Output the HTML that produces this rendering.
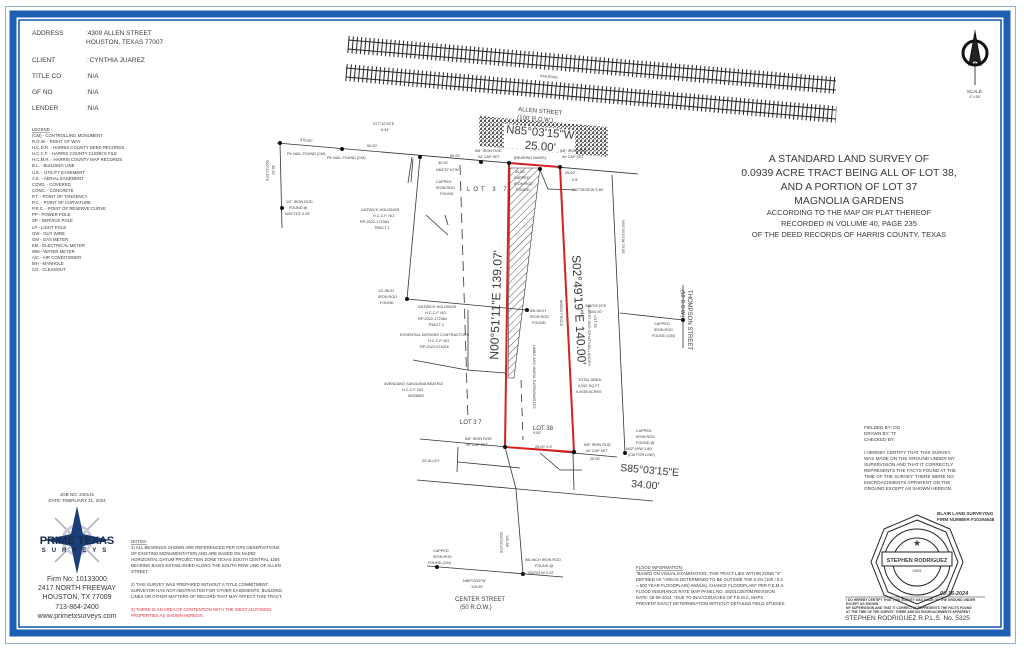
<!DOCTYPE html>
<html><head><meta charset="utf-8"><style>
html,body{margin:0;padding:0;background:#fff;}
svg{display:block;}
text{font-family:"Liberation Sans",sans-serif;fill:#3a3a3a;}
</style></head><body>
<svg width="1024" height="653" viewBox="0 0 1024 653" xmlns="http://www.w3.org/2000/svg">
<rect width="1024" height="653" fill="#fff"/>
<rect x="5.5" y="6.5" width="1010" height="637" fill="none" stroke="#8fb0d8" stroke-width="1"/>
<rect x="13" y="14" width="994" height="619" fill="none" stroke="#1e5fb4" stroke-width="7"/>
<rect x="19" y="20" width="982" height="607" fill="none" stroke="#1e5fb4" stroke-width="1.6"/>

<g font-size="6.5">
<text x="32" y="35">ADDRESS</text><text x="86" y="35">:4309 ALLEN STREET</text><text x="86" y="44">HOUSTON, TEXAS 77007</text>
<text x="32" y="62">CLIENT</text><text x="86" y="62">: CYNTHIA JUAREZ</text>
<text x="32" y="78">TITLE CO</text><text x="86" y="78">:N/A</text>
<text x="32" y="94">GF NO</text><text x="86" y="94">:N/A</text>
<text x="32" y="110">LENDER</text><text x="86" y="110">:N/A</text>
</g>
<g font-size="4.3">
<text x="32" y="131" text-decoration="underline">LEGEND</text>
<text x="32" y="137">(CM) - CONTROLLING MONUMENT</text>
<text x="32" y="143">R.O.W. - RIGHT OF WAY</text>
<text x="32" y="149">H.C.D.R. - HARRIS COUNTY DEED RECORDS</text>
<text x="32" y="155">H.C.C.F. - HARRIS COUNTY CLERK'S FILE</text>
<text x="32" y="161">H.C.M.R. - HARRIS COUNTY MAP RECORDS</text>
<text x="32" y="167">B.L. - BUILDING LINE</text>
<text x="32" y="174">U.E. - UTILITY EASEMENT</text>
<text x="32" y="180">A.E. - AERIAL EASEMENT</text>
<text x="32" y="186">COVD. - COVERED</text>
<text x="32" y="192">CONC. - CONCRETE</text>
<text x="32" y="198">P.T. - POINT OF TANGENCY</text>
<text x="32" y="204">P.C. - POINT OF CURVATURE</text>
<text x="32" y="210">P.R.C. - POINT OF RESERVE CURVE</text>
<text x="32" y="216">PP - POWER POLE</text>
<text x="32" y="222">SP - SERVICE POLE</text>
<text x="32" y="229">LP - LIGHT POLE</text>
<text x="32" y="235">GW - GUY WIRE</text>
<text x="32" y="241">GM - GAS METER</text>
<text x="32" y="247">EM - ELECTRICAL METER</text>
<text x="32" y="253">WM - WATER METER</text>
<text x="32" y="259">A/C - AIR CONDITIONER</text>
<text x="32" y="265">MH - MANHOLE</text>
<text x="32" y="271">CO - CLEANOUT</text>
</g>

<g stroke="#222" fill="none">
<line x1="348" y1="40" x2="836" y2="81" stroke-width="1"/>
<line x1="348" y1="49" x2="836" y2="90" stroke-width="1"/>
<line x1="348" y1="44.5" x2="836" y2="85.5" stroke-width="17" stroke-dasharray="1 3.2"/>
<line x1="346" y1="68" x2="836" y2="110" stroke-width="1"/>
<line x1="346" y1="77" x2="836" y2="119" stroke-width="1"/>
<line x1="346" y1="72.5" x2="836" y2="114.5" stroke-width="17" stroke-dasharray="1 3.2"/>
</g>
<text x="540" y="77" font-size="3.5" transform="rotate(5 540 77)">RAILROAD</text>
<text x="518" y="111" font-size="6" transform="rotate(5 518 111)">ALLEN STREET</text>
<text x="517" y="119" font-size="6" transform="rotate(5 517 119)">(100' R.O.W.)</text>

<defs>
<pattern id="st" width="4" height="4" patternUnits="userSpaceOnUse">
<circle cx="1" cy="1" r="1" fill="#222"/><circle cx="3" cy="2.6" r="0.8" fill="#333"/><circle cx="1.6" cy="3.5" r="0.5" fill="#444"/>
</pattern>
<pattern id="hatch" width="5" height="5" patternUnits="userSpaceOnUse" patternTransform="rotate(45)">
<line x1="0" y1="0" x2="0" y2="5" stroke="#333" stroke-width="0.8"/>
</pattern>
</defs>
<polygon points="479,116 608,127 608,157 479,146" fill="url(#st)"/>
<polygon points="504,124 575,130 575,154 504,148" fill="#fff"/>
<text x="540" y="136" font-size="11.5" text-anchor="middle" transform="rotate(5 540 136)">N85°03'15"W</text>
<text x="540" y="150" font-size="11.5" text-anchor="middle" transform="rotate(5 540 150)">25.00'</text>

<g stroke="#333" stroke-width="0.8" fill="none">
<line x1="277" y1="143" x2="638" y2="174"/>
<line x1="280" y1="143" x2="282" y2="228"/>
<line x1="420" y1="157" x2="407" y2="299"/>
<line x1="407" y1="299" x2="527" y2="310"/>
<line x1="413" y1="360" x2="467" y2="370"/>
<line x1="467" y1="370" x2="505" y2="373"/>
<line x1="468" y1="310" x2="468" y2="370"/>
<line x1="460" y1="165" x2="468" y2="420" stroke-dasharray="10 6"/>
<line x1="521" y1="380" x2="523" y2="440" stroke-dasharray="8 6"/>
<line x1="612" y1="175" x2="625" y2="453"/>
<line x1="620" y1="313" x2="683" y2="320"/>
<line x1="683" y1="285" x2="683" y2="348"/>
<line x1="420" y1="439" x2="617" y2="457"/>
<line x1="417" y1="480" x2="653" y2="501"/>
<line x1="458" y1="447" x2="457" y2="472"/>
<line x1="458" y1="462" x2="520" y2="468"/>
<line x1="516" y1="489" x2="523" y2="574"/>
<line x1="505" y1="447" x2="516" y2="489"/>
<line x1="427" y1="566" x2="563" y2="577"/>
<line x1="573" y1="453" x2="574" y2="490"/>
<line x1="540" y1="170" x2="548" y2="189"/>
<line x1="548" y1="189" x2="575" y2="190"/>
<line x1="412" y1="157" x2="408" y2="183"/>
<line x1="413" y1="159" x2="411" y2="182"/>
<line x1="445" y1="215" x2="448" y2="225"/>
<line x1="426" y1="215" x2="448" y2="235"/>
<line x1="540" y1="453" x2="560" y2="470"/>
<line x1="560" y1="470" x2="582" y2="470"/>
</g>
<polygon points="510,168 540,168 514,378 508,378" fill="url(#hatch)" stroke="#333" stroke-width="0.6"/>
<polygon points="509,163 560,167 574,452 505,447" fill="none" stroke="#d42020" stroke-width="2"/>
<g fill="#111">
<circle cx="280" cy="143" r="2"/><circle cx="342" cy="149" r="2"/><circle cx="420" cy="157" r="2"/>
<circle cx="481" cy="162" r="2"/><circle cx="509" cy="163" r="2"/><circle cx="560" cy="167" r="2"/>
<circle cx="540" cy="169" r="2"/><circle cx="282" cy="208" r="2"/><circle cx="407" cy="299" r="2"/>
<circle cx="527" cy="310" r="2"/><circle cx="683" cy="320" r="2"/><circle cx="505" cy="447" r="2"/>
<circle cx="574" cy="452" r="2.2"/><circle cx="625" cy="453" r="2"/><circle cx="437" cy="567" r="2"/>
<circle cx="523" cy="574" r="2"/>
</g>

<text font-size="12" text-anchor="middle" transform="translate(500,305) rotate(-88)">N00°51'11"E 139.07'</text>
<text font-size="12" text-anchor="middle" transform="translate(575,310) rotate(87)">S02°49'19"E 140.00'</text>
<text x="620" y="471" font-size="10.5" transform="rotate(5 620 471)">S85°03'15"E</text>
<text x="631" y="487" font-size="10.5" transform="rotate(5 631 487)">34.00'</text>

<g font-size="3.8">
<text x="300" y="141" transform="rotate(5 300 141)">376.92'</text>
<text x="287" y="155">PK NAIL FOUND (CM)</text>
<text x="327" y="159">PK NAIL FOUND (CM)</text>
<text x="367" y="147">50.00'</text>
<text x="373" y="125">S77°42'25"E</text><text x="381" y="131">6.34'</text>
<text x="450" y="157">50.00'</text><text x="438" y="164">30.00'</text><text x="436" y="171">N84°37'10"W</text>
<text x="436" y="183">CAPPED</text><text x="436" y="189">IRON ROD</text><text x="440" y="195">FOUND</text>
<text x="475" y="152">5/8" IRON ROD</text><text x="478" y="158">W/ CAP SET</text>
<text x="514" y="159">(BEARING BASIS)</text>
<text x="560" y="152">5/8" IRON ROD</text><text x="562" y="158">W/ CAP SET</text>
<text x="565" y="174">25.00'</text><text x="572" y="181">0.5'</text><text x="572" y="191">S87°38'28"W 9.80'</text>
<text x="515" y="173">30.00'</text><text x="514" y="179">CAPPED</text><text x="514" y="185">IRON ROD</text><text x="516" y="191">FOUND</text>
<text x="286" y="203">1/2" IRON ROD</text><text x="289" y="209">FOUND @</text><text x="285" y="215">N40°21'E 0.25'</text>
<text x="361" y="211">GATWICK HOLDINGS</text><text x="373" y="217">H.C.C.F. NO.</text><text x="360" y="223">RP-2022-172364</text><text x="374" y="229">TRACT 1</text>
<text x="378" y="292">1/2-INCH</text><text x="378" y="298">IRON ROD</text><text x="380" y="304">FOUND</text>
<text x="418" y="308">GATWICK HOLDINGS</text><text x="425" y="314">H.C.C.F. NO.</text><text x="418" y="320">RP-2022-172364</text><text x="428" y="326">TRACT 2</text>
<text x="400" y="336">ESSENTIAL DESIGNS CONTRACTORS</text><text x="428" y="342">H.C.C.F. NO.</text><text x="420" y="348">RP-2022-574016</text>
<text x="384" y="385">AVENDANO SANJUANA BEATRIZ</text><text x="402" y="391">H.C.C.F. NO.</text><text x="408" y="397">W426802</text>
<text x="530" y="312">5/8-INCH</text><text x="530" y="318">IRON ROD</text><text x="532" y="324">FOUND</text>
<text x="585" y="307">S85°03'15"E</text><text x="590" y="313">100.00'</text>
<text x="654" y="325">CAPPED</text><text x="654" y="331">IRON ROD</text><text x="652" y="337">FOUND (CM)</text>
<text x="578" y="381">TOTAL AREA:</text><text x="578" y="387">4,092 SQ.FT.</text><text x="576" y="393">0.0939 ACRES</text>
<text x="533" y="430" font-size="6">LOT 38</text>
<text x="460" y="424" font-size="6">LOT 3 7</text>
<text x="533" y="434">9.00'</text>
<text x="465" y="440">5/8" IRON ROD</text><text x="466" y="446">W/ CAP SET</text>
<text x="535" y="448">25.00' 0.4'</text>
<text x="584" y="446">5/8" IRON ROD</text><text x="586" y="452">W/ CAP SET</text><text x="590" y="460">25.00'</text>
<text x="636" y="432">CAPPED</text><text x="636" y="438">IRON ROD</text><text x="636" y="444">FOUND @</text><text x="626" y="450">N02°49'W 1.80'</text><text x="628" y="456">(CM FOR LINE)</text>
<text x="422" y="462">20' ALLEY</text>
<text x="433" y="552">CAPPED</text><text x="433" y="558">IRON ROD</text><text x="428" y="564">FOUND (CM)</text>
<text x="525" y="561">5/8-INCH IRON ROD</text><text x="535" y="567">FOUND @</text><text x="528" y="574">S53°01'W 0.22'</text>
<text x="463" y="582">N85°03'15"W</text><text x="471" y="588">119.00'</text>
<text x="455" y="601" font-size="6">CENTER STREET</text><text x="460" y="609" font-size="6">(50 R.O.W.)</text>
<text x="467" y="191" font-size="6" letter-spacing="3">LOT 3 7</text>
<text font-size="6" transform="translate(688,290) rotate(90)">THOMPSON STREET</text>
<text font-size="5" transform="translate(681,290) rotate(90)">(50' R.O.W.)</text>
<text transform="translate(622,220) rotate(90)">N02°49'19"W 70.00'</text>
<text transform="translate(588,305) rotate(90)">ALBERT AND JOHATHAN LANDRY</text>
<text transform="translate(594,315) rotate(90)">LOT 39</text>
<text transform="translate(560,300) rotate(90)">WOOD FENCE</text>
<text transform="translate(533,345) rotate(90)">UMBO AND MARIA TURRUBIARTES</text>
<text transform="translate(266,160) rotate(90)">S02°21'29"E</text><text transform="translate(272,165) rotate(90)">30.32'</text>
<text transform="translate(500,532) rotate(90)">S02°53'15"E</text><text transform="translate(506,535) rotate(90)">140.38'</text>
</g>

<g stroke="#111" fill="none">
<circle cx="975" cy="53" r="12" stroke-width="3"/>
<line x1="975" y1="30" x2="975" y2="85" stroke-width="0.8"/>
<polygon points="975,32 969,65 975,60 981,65" fill="#222"/>
</g>
<text x="975" y="93" font-size="4.5" text-anchor="middle">SCALE:</text>
<text x="975" y="98" font-size="4" text-anchor="middle">1"=30'</text>

<g text-anchor="middle">
<text x="849" y="162" font-size="10.5">A STANDARD LAND SURVEY OF</text>
<text x="849" y="176" font-size="10.5">0.0939 ACRE TRACT BEING ALL OF LOT 38,</text>
<text x="849" y="190" font-size="10.5">AND A PORTION OF LOT 37</text>
<text x="849" y="204" font-size="10.5">MAGNOLIA GARDENS</text>
<text x="849" y="215" font-size="7.5">ACCORDING TO THE MAP OR PLAT THEREOF</text>
<text x="849" y="226" font-size="7.5">RECORDED IN VOLUME 40, PAGE 235</text>
<text x="849" y="237" font-size="7.5">OF THE DEED RECORDS OF HARRIS COUNTY, TEXAS</text>
</g>

<g font-size="4.6">
<text x="864" y="429">FIELDED BY: OO</text><text x="864" y="435">DRAWN BY: TF</text><text x="864" y="441">CHECKED BY:</text>
<text x="864" y="454">I HEREBY CERTIFY THAT THIS SURVEY</text>
<text x="864" y="460">WAS MADE ON THE GROUND UNDER MY</text>
<text x="864" y="466">SUPERVISION AND THAT IT CORRECTLY</text>
<text x="864" y="472">REPRESENTS THE FACTS FOUND AT THE</text>
<text x="864" y="478">TIME OF THE SURVEY. THERE WERE NO</text>
<text x="864" y="484">ENCROACHMENTS APPARENT ON THE</text>
<text x="864" y="490">GROUND EXCEPT AS SHOWN HEREON.</text>
<text x="937" y="515" font-weight="bold">BLAIR LAND SURVEYING</text>
<text x="937" y="521" font-weight="bold">FIRM NUMBER F10194648</text>
</g>
<g stroke="#222" fill="none" stroke-width="1">
<polygon points="917,515 950,529 963,562 950,595 917,609 884,595 871,562 884,529"/>
<polygon points="917,520 946,532 958,562 946,592 917,604 888,592 876,562 888,532"/>
<circle cx="917" cy="562" r="33"/>
<circle cx="917" cy="562" r="24"/>
<rect x="882" y="552" width="70" height="14" fill="#fff"/>
</g>
<text x="917" y="562" font-size="5.5" text-anchor="middle" font-weight="bold">STEPHEN RODRIGUEZ</text>
<text x="917" y="546" font-size="9" text-anchor="middle">★</text>
<text x="917" y="572" font-size="4" text-anchor="middle">5325</text>
<text x="940" y="595" font-size="5.5" font-weight="bold" font-style="italic">03-16-2024</text>
<line x1="845" y1="597" x2="985" y2="597" stroke="#222" stroke-width="0.6"/>
<g font-size="3.3" font-weight="bold">
<text x="846" y="601">I DO HEREBY CERTIFY THAT THIS SURVEY WAS MADE ON THE GROUND UNDER</text>
<text x="846" y="605">EXCEPT AS SHOWN.</text>
<text x="846" y="609">MY SUPERVISION AND THAT IT CORRECTLY REPRESENTS THE FACTS FOUND</text>
<text x="846" y="613">AT THE TIME OF THE SURVEY. THERE ARE NO ENCROACHMENTS APPARENT</text>
</g>
<text x="845" y="620" font-size="6.5">STEPHEN RODRIGUEZ   R.P.L.S. No. 5325</text>

<g font-size="4.3">
<text x="636" y="569" text-decoration="underline">FLOOD INFORMATION:</text>
<text x="636" y="575">"BASED ON VISUAL EXAMINATION, THIS TRACT LIES WITHIN ZONE "X"</text>
<text x="636" y="581">DEFINED AS "AREAS DETERMINED TO BE OUTSIDE THE 0.2%  (100 / 0.2</text>
<text x="636" y="587">= 500 YEAR FLOODPLAIN) ANNUAL CHANCE FLOODPLAIN" PER F.E.M.A.</text>
<text x="636" y="593">FLOOD INSURANCE RATE MAP PANEL NO: 48201C0670M REVISION</text>
<text x="636" y="599">DATE: 06-09-2014. *DUE TO INACCURACIES OF F.E.M.A. MAPS</text>
<text x="636" y="605">PREVENT EXACT DETERMINATION WITHOUT DETAILED FIELD STUDIES.</text>
</g>

<g font-size="4.3">
<text x="131" y="543" text-decoration="underline">NOTES:</text>
<text x="131" y="549">1) ALL BEARINGS SHOWN ARE REFERENCED PER GPS OBSERVATIONS</text>
<text x="131" y="555">OF EXISTING MONUMENTATION AND ARE BASED ON NAD83</text>
<text x="131" y="561">HORIZONTAL DATUM PROJECTION ZONE TEXAS SOUTH CENTRAL 4204</text>
<text x="131" y="567">BEARING BASIS ESTABLISHED ALONG THE SOUTH ROW LINE OF ALLEN</text>
<text x="131" y="573">STREET.</text>
<text x="131" y="586">2) THIS SURVEY WAS PREPARED WITHOUT A TITLE COMMITMENT.</text>
<text x="131" y="592">SURVEYOR HAS NOT ABSTRACTED FOR OTHER EASEMENTS, BUILDING</text>
<text x="131" y="598">LINES OR OTHER MATTERS OF RECORD THAT MAY AFFECT THIS TRACT.</text>
<text x="131" y="611" style="fill:#e0303a">3) THERE IS AN AREA OF CONTENTION WITH THE WEST ADJOINING</text>
<text x="131" y="617" style="fill:#e0303a">PROPERTIES AS SHOWN HEREON.</text>
</g>

<g text-anchor="middle">
<text x="77" y="496" font-size="4.5">JOB NO: 240141</text>
<text x="77" y="502" font-size="4.5">DATE: FEBRUARY 21, 2024</text>
</g>
<g stroke="#aab" stroke-width="1.5"><line x1="55" y1="518" x2="99" y2="562"/><line x1="99" y1="518" x2="55" y2="562"/></g>
<circle cx="77" cy="540" r="14" fill="none" stroke="#ccd" stroke-width="3"/>
<polygon points="77,506 83,534 110,540 83,546 77,574 71,546 44,540 71,534" fill="#1a3f78"/>
<text x="77" y="544" font-size="11" font-weight="bold" text-anchor="middle" style="fill:#1a2a4a">PRIME TEXAS</text>
<text x="77" y="552" font-size="6" font-weight="bold" text-anchor="middle" letter-spacing="6" style="fill:#1a2a4a">SURVEYS</text>
<g text-anchor="middle" font-size="7">
<text x="77" y="581">Firm No: 10133000</text>
<text x="77" y="590">2417 NORTH FREEWAY</text>
<text x="77" y="599">HOUSTON, TX 77009</text>
<text x="77" y="609">713-864-2400</text>
<text x="77" y="618">www.primetxsurveys.com</text>
</g>
</svg>
</body></html>
